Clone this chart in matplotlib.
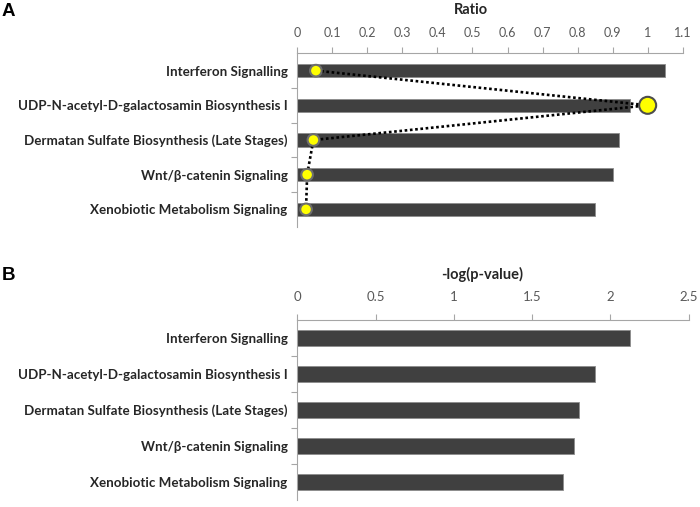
import numpy as np
import matplotlib
matplotlib.use("Agg")
import matplotlib.pyplot as plt
from matplotlib.ticker import FixedLocator

# pathway names, top to bottom
pathways = ["Interferon Signalling",
            "UDP-N-acetyl-D-galactosamin Biosynthesis I",
            "Dermatan Sulfate Biosynthesis (Late Stages)",
            "Wnt/\u03b2-catenin Signaling",
            "Xenobiotic Metabolism Signaling"]

# panel A: ratio points (top axis) and bar lengths read against the same scale
ratio = [0.053, 1.0, 0.046, 0.028, 0.025]
bars_a = [1.05, 0.951, 0.919, 0.90, 0.849]
ratio_ticks = [0, 0.1, 0.2, 0.3, 0.4, 0.5, 0.6, 0.7, 0.8, 0.9, 1, 1.1]
ratio_labels = ["0", "0.1", "0.2", "0.3", "0.4", "0.5", "0.6", "0.7", "0.8", "0.9", "1", "1.1"]

# panel B: -log(p-value)
logp = [2.125, 1.90, 1.80, 1.768, 1.698]
logp_ticks = [0, 0.5, 1, 1.5, 2, 2.5]
logp_labels = ["0", "0.5", "1", "1.5", "2", "2.5"]

W, H = 700, 507
fig = plt.figure(figsize=(W / 100, H / 100), dpi=100)

bar_col = "#404040"
spine_col = "#a6a6a6"
lab_font = "Lato"


def setup(ax, ticks, labels, xmax, labsize, pad):
    ypos = np.arange(len(pathways))
    ax.set_ylim(len(pathways) - 0.5, -0.5)
    ax.set_xlim(0, xmax)
    ax.xaxis.tick_top()
    ax.set_xticks(ticks)
    ax.set_xticklabels(labels, fontsize=labsize, color="#595959", family=lab_font)
    ax.tick_params(axis="x", direction="out", length=4, width=0.8, color=spine_col, pad=pad)
    ax.set_yticks(ypos)
    ax.set_yticklabels(pathways, fontsize=9.6, fontweight="bold", color="#262626", family=lab_font)
    ax.tick_params(axis="y", length=0, pad=7)
    ax.yaxis.set_minor_locator(FixedLocator(np.arange(len(pathways) - 1) + 0.5))
    ax.tick_params(axis="y", which="minor", length=4, width=0.8, color=spine_col, direction="out")
    for s in ["right", "bottom"]:
        ax.spines[s].set_visible(False)
    for s in ["top", "left"]:
        ax.spines[s].set_color(spine_col)
        ax.spines[s].set_linewidth(0.8)
    return ypos


# ---- panel A ----
axA = fig.add_axes([297.3 / W, 1 - 226.7 / H, 385.4 / W, 173.4 / H])
ypos = setup(axA, ratio_ticks, ratio_labels, 1.1, 9, 6)
axA.barh(ypos, bars_a, height=0.38, color=bar_col, edgecolor="#8c8c8c", linewidth=0.6, zorder=2)
axA.plot(ratio, ypos, color="black", linestyle=(0, (1, 1)), linewidth=1.9, zorder=3)
sizes = [70, 150, 70, 70, 70]
edges = ["#6e6e6e", "#4d4d4d", "#6e6e6e", "#6e6e6e", "#6e6e6e"]
axA.scatter(ratio, ypos, s=sizes, color="#ffff00", edgecolors=edges, linewidths=1.5, zorder=4)
fig.text(471 / W, 1 - 9.5 / H, "Ratio", ha="center", va="center", fontsize=10.5,
         fontweight="bold", color="#262626", family=lab_font)

# ---- panel B ----
axB = fig.add_axes([297.3 / W, 1 - 500 / H, 391.4 / W, 180 / H])
ypos = setup(axB, logp_ticks, logp_labels, 2.5, 9.5, 8)
axB.barh(ypos, logp, height=0.42, color=bar_col, edgecolor="#8c8c8c", linewidth=0.6, zorder=2)
fig.text(482 / W, 1 - 274 / H, "-log(p-value)", ha="center", va="center", fontsize=10.5,
         fontweight="bold", color="#262626", family=lab_font)

# panel letters
fig.text(2 / W, 1 - 12 / H, "A", ha="left", va="center", fontsize=13.5, fontweight="bold",
         family="Liberation Sans")
fig.text(2 / W, 1 - 275 / H, "B", ha="left", va="center", fontsize=13.5, fontweight="bold",
         family="Liberation Sans")

fig.savefig("out.png", dpi=100)
